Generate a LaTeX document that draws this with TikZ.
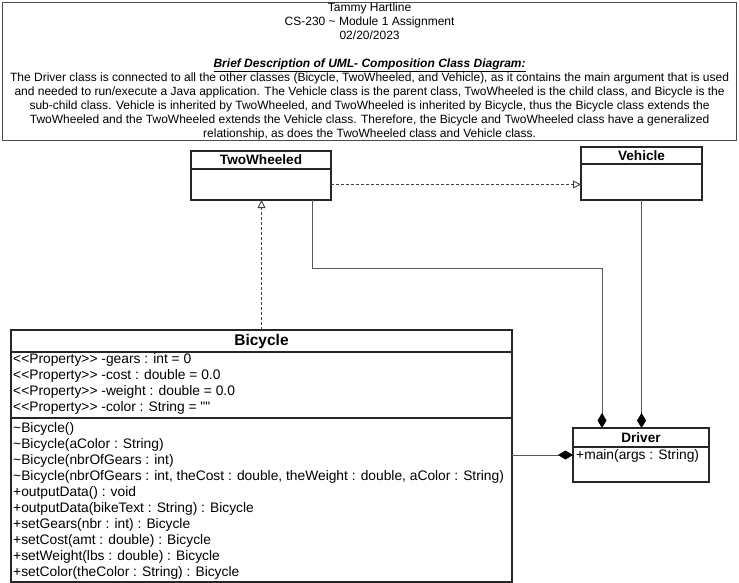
\documentclass[tikz,border=0pt]{standalone}
\usepackage{fontspec}
\setmainfont{Liberation Sans}[Ligatures=TeXOff]
\usetikzlibrary{arrows.meta}
\begin{document}
\begin{tikzpicture}[x=1pt,y=-1pt,
  box/.style={draw=black!85, line width=1.3pt, rectangle, inner sep=0pt, outer sep=0pt},
  hdr/.style={box, font=\fontsize{13.6}{16}\selectfont\bfseries},
  bodytext/.style={font=\fontsize{13.8}{16}\selectfont, align=left, anchor=north west, inner sep=0pt},
  conn/.style={draw=black!65, line width=0.9pt},
  gen/.style={conn, draw=black!75, dash pattern=on 3pt off 2pt, -{Triangle[open,length=8pt,width=8pt]}},
  comp/.style={conn, -{Diamond[length=15pt,width=9pt,fill=black,color=black]}},
]
\useasboundingbox (0,0) rectangle (739,583);
\fill[white] (0,0) rectangle (739,583);

% description box
\node[draw=black!70, line width=1.2pt, minimum width=734pt, minimum height=138pt,
      anchor=north west, inner sep=0pt, align=center,
      font=\fontsize{12}{14}\selectfont] (desc) at (2,2)
{Tammy Hartline\\
CS-230 \textasciitilde{} Module 1 Assignment\\
02/20/2023\\[14pt]
\underline{\textbf{\textit{Brief Description of UML- Composition Class Diagram:}}}\\
The Driver class is connected to all the other classes (Bicycle, TwoWheeled, and Vehicle), as it contains the main argument that is used\\
and needed to run/execute a Java application. The Vehicle class is the parent class, TwoWheeled is the child class, and Bicycle is the\\
sub-child class. Vehicle is inherited by TwoWheeled, and TwoWheeled is inherited by Bicycle, thus the Bicycle class extends the\\
TwoWheeled and the TwoWheeled extends the Vehicle class. Therefore, the Bicycle and TwoWheeled class have a generalized\\
relationship, as does the TwoWheeled class and Vehicle class.};

% TwoWheeled
\node[hdr, minimum width=140pt, minimum height=18pt, anchor=north west] (twh) at (191,151) {TwoWheeled};
\node[box, minimum width=140pt, minimum height=31pt, anchor=north] (twb) at (twh.south) {};

% Vehicle
\node[hdr, minimum width=121pt, minimum height=17pt, anchor=north west] (vh) at (581,147) {Vehicle};
\node[box, minimum width=121pt, minimum height=36pt, anchor=north] (vb) at (vh.south) {};

% Driver
\node[hdr, minimum width=136pt, minimum height=19pt, anchor=north west] (drh) at (573,428) {Driver};
\node[box, minimum width=136pt, minimum height=35pt, anchor=north] (drb) at (drh.south) {};
\node[bodytext] (drt) at (576,449) {+main(args : String)};

% Bicycle
\node[box, minimum width=501pt, minimum height=22pt, anchor=north west,
      font=\fontsize{15.5}{18}\selectfont\bfseries] (bich) at (11,330) {Bicycle};
\node[box, minimum width=501pt, minimum height=66pt, anchor=north] (bica) at (bich.south) {};
\node[box, minimum width=501pt, minimum height=164pt, anchor=north] (bicm) at (bica.south) {};
\node[bodytext] (bicat) at (13,353)
{<<Property>> -gears : int = 0\\
<<Property>> -cost : double = 0.0\\
<<Property>> -weight : double = 0.0\\
<<Property>> -color : String = ""};
\node[bodytext] (bicmt) at (13,422)
{\textasciitilde Bicycle()\\
\textasciitilde Bicycle(aColor : String)\\
\textasciitilde Bicycle(nbrOfGears : int)\\
\textasciitilde Bicycle(nbrOfGears : int, theCost : double, theWeight : double, aColor : String)\\
+outputData() : void\\
+outputData(bikeText : String) : Bicycle\\
+setGears(nbr : int) : Bicycle\\
+setCost(amt : double) : Bicycle\\
+setWeight(lbs : double) : Bicycle\\
+setColor(theColor : String) : Bicycle};

% connectors
\draw[gen] (bich.north) -- (bich.north |- twb.south);
\draw[gen] (twb.east) -- (twb.east -| vb.west);
\draw[comp] ([xshift=51pt]twb.south) |- ([xshift=-39pt,yshift=160pt]drh.north) -- ([xshift=-39pt]drh.north);
\draw[comp] (vb.south) -- (vb.south |- drh.north);
\draw[comp] ([yshift=9.5pt]drb.west -| bicm.east) -- ([yshift=9.5pt]drb.west);
\end{tikzpicture}
\end{document}
